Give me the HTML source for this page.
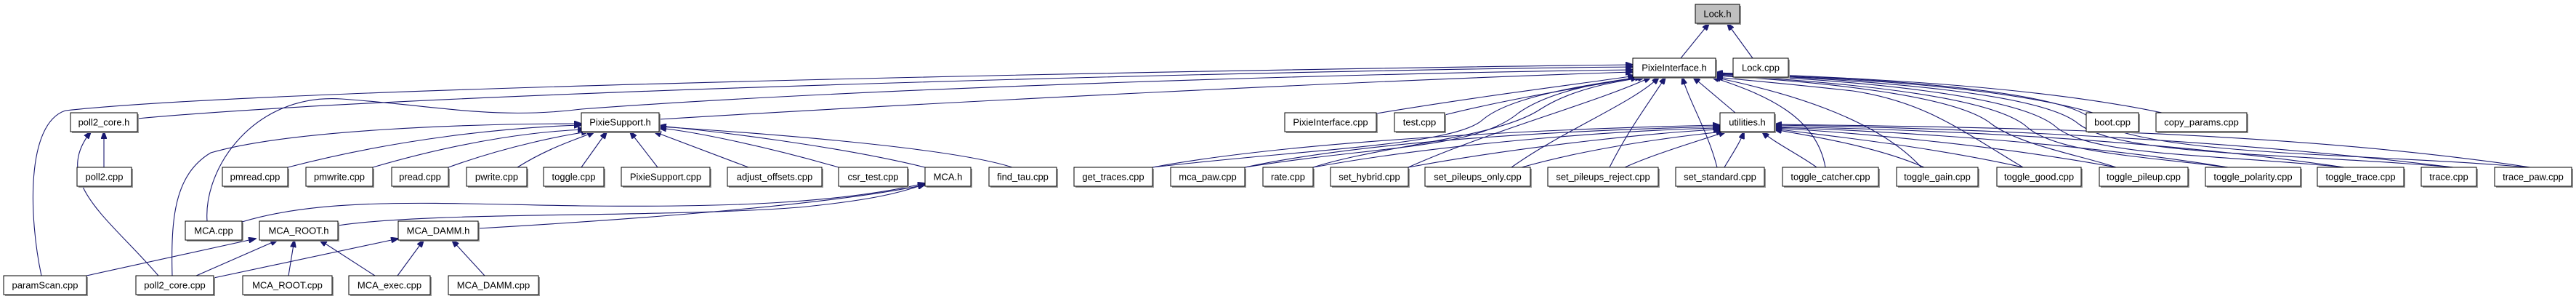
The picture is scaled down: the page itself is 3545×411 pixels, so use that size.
<!DOCTYPE html>
<html><head><meta charset="utf-8"><style>
html,body{margin:0;padding:0;background:#fff;}
svg{display:block;}
text{font-family:"Liberation Sans",Arial,sans-serif;font-size:13px;fill:#000;}
.e{fill:none;stroke:#191970;stroke-width:1.1;}
.n{fill:#fff;stroke:#000;stroke-width:1;}
.s{fill:#9a9a9a;}
</style></head><body>
<svg width="3545" height="411" viewBox="0 0 3545 411" xmlns="http://www.w3.org/2000/svg">
<defs>
<marker id="a" markerWidth="11" markerHeight="8" refX="10" refY="4" orient="auto" markerUnits="userSpaceOnUse">
<path d="M0,0 L11,4 L0,8 z" fill="#191970" stroke="#191970"/>
</marker>
</defs>
<g class="e" marker-end="url(#a)">
<path d="M2313,80 L2352,32"/>
<path d="M2412,80 L2377,32"/>
<path d="M189,163 C600,125 1800,96 2247,92"/>
<path d="M57,379 C40,300 35,170 90,152 C400,118 1800,94 2247,89"/>
<path d="M285,304 C280,230 350,128 470,136 C600,145 680,165 800,150 C1200,120 1900,100 2247,96"/>
<path d="M907,164 C1300,140 1900,110 2247,99"/>
<path d="M1894,156 C2050,130 2200,112 2250,104"/>
<path d="M1988,158 C2100,130 2230,112 2254,106"/>
<path d="M1586,230 C1800,205 2000,200 2040,165 C2080,130 2200,115 2255,106"/>
<path d="M1713,230 C1900,200 2030,205 2090,155 C2140,120 2230,110 2260,106"/>
<path d="M1807,230 C1900,200 2060,190 2120,150 C2170,118 2240,110 2264,106"/>
<path d="M1938,230 C2050,180 2200,140 2272,106"/>
<path d="M2080,230 C2150,180 2250,140 2283,106"/>
<path d="M2215,230 C2240,180 2270,140 2292,106"/>
<path d="M2363,230 C2350,180 2325,140 2315,106"/>
<path d="M2388,155 L2330,106"/>
<path d="M2512,230 C2500,160 2430,130 2356,106"/>
<path d="M2644,230 C2580,160 2450,125 2358,106"/>
<path d="M2784,230 C2700,180 2650,140 2550,125 C2460,115 2400,110 2361,106"/>
<path d="M2912,230 C2870,215 2780,200 2740,170 C2690,130 2500,112 2361,104"/>
<path d="M3066,230 C2950,215 2830,210 2790,175 C2740,130 2520,112 2361,103"/>
<path d="M3226,230 C3050,212 2880,215 2830,175 C2780,130 2550,110 2361,102"/>
<path d="M3376,230 C3150,210 2920,215 2860,170 C2810,128 2580,110 2361,101"/>
<path d="M3480,230 C3250,210 2960,215 2880,165 C2840,125 2600,108 2361,100"/>
<path d="M2880,155 C2750,118 2550,108 2361,101"/>
<path d="M2975,155 C2800,118 2550,106 2361,100"/>
<path d="M1586,230 C1800,190 2200,175 2367,172"/>
<path d="M1713,230 C1900,190 2200,178 2367,174"/>
<path d="M1807,230 C2000,195 2250,178 2368,176"/>
<path d="M1938,230 C2100,200 2300,180 2368,178"/>
<path d="M2094,230 C2200,200 2330,185 2372,181"/>
<path d="M2236,230 C2280,210 2350,190 2375,181"/>
<path d="M2373,230 C2385,210 2395,195 2400,181"/>
<path d="M2500,230 C2480,215 2440,195 2425,181"/>
<path d="M2648,230 C2580,200 2480,185 2442,178"/>
<path d="M2784,230 C2650,200 2500,185 2442,177"/>
<path d="M2912,230 C2750,200 2550,182 2442,176"/>
<path d="M3066,230 C2850,195 2600,180 2442,175"/>
<path d="M3226,230 C2950,190 2650,178 2442,174"/>
<path d="M3376,230 C3050,190 2700,176 2442,172"/>
<path d="M3482,230 C3150,180 2750,175 2442,171"/>
<path d="M1393,230 C1300,200 1000,180 907,174"/>
<path d="M396,230 C550,190 700,175 800,172"/>
<path d="M513,230 C650,190 750,180 805,178"/>
<path d="M617,230 C700,200 780,185 810,181"/>
<path d="M712,230 C760,200 800,190 818,181"/>
<path d="M800,230 L835,181"/>
<path d="M905,230 L867,181"/>
<path d="M1030,230 L900,181"/>
<path d="M1154,230 C1050,200 950,180 907,176"/>
<path d="M1273,230 C1150,200 980,180 907,173"/>
<path d="M237,379 C235,300 240,240 290,210 C400,178 650,170 800,170"/>
<path d="M333,305 C450,270 600,280 800,283 C1000,285 1150,280 1273,252"/>
<path d="M465,310 C600,290 900,300 1100,285 C1200,275 1240,265 1273,253"/>
<path d="M658,314 C900,300 1150,280 1273,254"/>
<path d="M119,379 L352,328"/>
<path d="M270,379 L382,330"/>
<path d="M397,379 L405,330"/>
<path d="M516,379 L440,330"/>
<path d="M294,382 L548,328"/>
<path d="M547,379 L583,330"/>
<path d="M667,379 L622,330"/>
<path d="M143,230 L143,181"/>
<path d="M218,379 C150,300 70,250 125,181"/>
</g>
<g>
<rect x="2335" y="8" width="61" height="26" class="s"/><rect x="2333" y="6" width="61" height="26" fill="#bfbfbf" stroke="#000"/><text x="2363.5" y="23.5" text-anchor="middle">Lock.h</text>
<rect x="2249" y="82" width="114" height="26" class="s"/><rect x="2247" y="80" width="114" height="26" class="n"/><text x="2304" y="97.5" text-anchor="middle">PixieInterface.h</text>
<rect x="2387" y="82" width="76" height="26" class="s"/><rect x="2385" y="80" width="76" height="26" class="n"/><text x="2423" y="97.5" text-anchor="middle">Lock.cpp</text>

<rect x="99" y="157" width="92" height="26" class="s"/><rect x="97" y="155" width="92" height="26" class="n"/><text x="143" y="172.5" text-anchor="middle">poll2_core.h</text>
<rect x="802" y="157" width="107" height="26" class="s"/><rect x="800" y="155" width="107" height="26" class="n"/><text x="853.5" y="172.5" text-anchor="middle">PixieSupport.h</text>
<rect x="1770" y="157" width="126" height="26" class="s"/><rect x="1768" y="155" width="126" height="26" class="n"/><text x="1831" y="172.5" text-anchor="middle">PixieInterface.cpp</text>
<rect x="1921" y="157" width="69" height="26" class="s"/><rect x="1919" y="155" width="69" height="26" class="n"/><text x="1953.5" y="172.5" text-anchor="middle">test.cpp</text>
<rect x="2369" y="157" width="75" height="26" class="s"/><rect x="2367" y="155" width="75" height="26" class="n"/><text x="2404.5" y="172.5" text-anchor="middle">utilities.h</text>
<rect x="2873" y="157" width="72" height="26" class="s"/><rect x="2871" y="155" width="72" height="26" class="n"/><text x="2907" y="172.5" text-anchor="middle">boot.cpp</text>
<rect x="2969" y="157" width="125" height="26" class="s"/><rect x="2967" y="155" width="125" height="26" class="n"/><text x="3029.5" y="172.5" text-anchor="middle">copy_params.cpp</text>

<rect x="108" y="232" width="75" height="26" class="s"/><rect x="106" y="230" width="75" height="26" class="n"/><text x="143.5" y="247.5" text-anchor="middle">poll2.cpp</text>
<rect x="308" y="232" width="90" height="26" class="s"/><rect x="306" y="230" width="90" height="26" class="n"/><text x="351" y="247.5" text-anchor="middle">pmread.cpp</text>
<rect x="423" y="232" width="92" height="26" class="s"/><rect x="421" y="230" width="92" height="26" class="n"/><text x="467" y="247.5" text-anchor="middle">pmwrite.cpp</text>
<rect x="541" y="232" width="78" height="26" class="s"/><rect x="539" y="230" width="78" height="26" class="n"/><text x="578" y="247.5" text-anchor="middle">pread.cpp</text>
<rect x="644" y="232" width="83" height="26" class="s"/><rect x="642" y="230" width="83" height="26" class="n"/><text x="683.5" y="247.5" text-anchor="middle">pwrite.cpp</text>
<rect x="750" y="232" width="83" height="26" class="s"/><rect x="748" y="230" width="83" height="26" class="n"/><text x="789.5" y="247.5" text-anchor="middle">toggle.cpp</text>
<rect x="857" y="232" width="122" height="26" class="s"/><rect x="855" y="230" width="122" height="26" class="n"/><text x="916" y="247.5" text-anchor="middle">PixieSupport.cpp</text>
<rect x="1003" y="232" width="130" height="26" class="s"/><rect x="1001" y="230" width="130" height="26" class="n"/><text x="1066" y="247.5" text-anchor="middle">adjust_offsets.cpp</text>
<rect x="1156" y="232" width="95" height="26" class="s"/><rect x="1154" y="230" width="95" height="26" class="n"/><text x="1201.5" y="247.5" text-anchor="middle">csr_test.cpp</text>
<rect x="1275" y="232" width="63" height="26" class="s"/><rect x="1273" y="230" width="63" height="26" class="n"/><text x="1304.5" y="247.5" text-anchor="middle">MCA.h</text>
<rect x="1363" y="232" width="93" height="26" class="s"/><rect x="1361" y="230" width="93" height="26" class="n"/><text x="1407.5" y="247.5" text-anchor="middle">find_tau.cpp</text>
<rect x="1480" y="232" width="108" height="26" class="s"/><rect x="1478" y="230" width="108" height="26" class="n"/><text x="1532" y="247.5" text-anchor="middle">get_traces.cpp</text>
<rect x="1613" y="232" width="102" height="26" class="s"/><rect x="1611" y="230" width="102" height="26" class="n"/><text x="1662" y="247.5" text-anchor="middle">mca_paw.cpp</text>
<rect x="1740" y="232" width="69" height="26" class="s"/><rect x="1738" y="230" width="69" height="26" class="n"/><text x="1772.5" y="247.5" text-anchor="middle">rate.cpp</text>
<rect x="1833" y="232" width="107" height="26" class="s"/><rect x="1831" y="230" width="107" height="26" class="n"/><text x="1884.5" y="247.5" text-anchor="middle">set_hybrid.cpp</text>
<rect x="1963" y="232" width="145" height="26" class="s"/><rect x="1961" y="230" width="145" height="26" class="n"/><text x="2033.5" y="247.5" text-anchor="middle">set_pileups_only.cpp</text>
<rect x="2132" y="232" width="152" height="26" class="s"/><rect x="2130" y="230" width="152" height="26" class="n"/><text x="2206" y="247.5" text-anchor="middle">set_pileups_reject.cpp</text>
<rect x="2308" y="232" width="122" height="26" class="s"/><rect x="2306" y="230" width="122" height="26" class="n"/><text x="2367" y="247.5" text-anchor="middle">set_standard.cpp</text>
<rect x="2455" y="232" width="132" height="26" class="s"/><rect x="2453" y="230" width="132" height="26" class="n"/><text x="2519" y="247.5" text-anchor="middle">toggle_catcher.cpp</text>
<rect x="2612" y="232" width="112" height="26" class="s"/><rect x="2610" y="230" width="112" height="26" class="n"/><text x="2666" y="247.5" text-anchor="middle">toggle_gain.cpp</text>
<rect x="2750" y="232" width="116" height="26" class="s"/><rect x="2748" y="230" width="116" height="26" class="n"/><text x="2806" y="247.5" text-anchor="middle">toggle_good.cpp</text>
<rect x="2891" y="232" width="122" height="26" class="s"/><rect x="2889" y="230" width="122" height="26" class="n"/><text x="2950" y="247.5" text-anchor="middle">toggle_pileup.cpp</text>
<rect x="3037" y="232" width="131" height="26" class="s"/><rect x="3035" y="230" width="131" height="26" class="n"/><text x="3100.5" y="247.5" text-anchor="middle">toggle_polarity.cpp</text>
<rect x="3191" y="232" width="119" height="26" class="s"/><rect x="3189" y="230" width="119" height="26" class="n"/><text x="3248.5" y="247.5" text-anchor="middle">toggle_trace.cpp</text>
<rect x="3334" y="232" width="76" height="26" class="s"/><rect x="3332" y="230" width="76" height="26" class="n"/><text x="3370" y="247.5" text-anchor="middle">trace.cpp</text>
<rect x="3435" y="232" width="106" height="26" class="s"/><rect x="3433" y="230" width="106" height="26" class="n"/><text x="3486" y="247.5" text-anchor="middle">trace_paw.cpp</text>

<rect x="257" y="306" width="78" height="26" class="s"/><rect x="255" y="304" width="78" height="26" class="n"/><text x="294" y="321.5" text-anchor="middle">MCA.cpp</text>
<rect x="359" y="306" width="108" height="26" class="s"/><rect x="357" y="304" width="108" height="26" class="n"/><text x="411" y="321.5" text-anchor="middle">MCA_ROOT.h</text>
<rect x="550" y="306" width="110" height="26" class="s"/><rect x="548" y="304" width="110" height="26" class="n"/><text x="603" y="321.5" text-anchor="middle">MCA_DAMM.h</text>

<rect x="7" y="381" width="114" height="26" class="s"/><rect x="5" y="379" width="114" height="26" class="n"/><text x="62" y="396.5" text-anchor="middle">paramScan.cpp</text>
<rect x="189" y="381" width="107" height="26" class="s"/><rect x="187" y="379" width="107" height="26" class="n"/><text x="240.5" y="396.5" text-anchor="middle">poll2_core.cpp</text>
<rect x="336" y="381" width="123" height="26" class="s"/><rect x="334" y="379" width="123" height="26" class="n"/><text x="395.5" y="396.5" text-anchor="middle">MCA_ROOT.cpp</text>
<rect x="482" y="381" width="112" height="26" class="s"/><rect x="480" y="379" width="112" height="26" class="n"/><text x="536" y="396.5" text-anchor="middle">MCA_exec.cpp</text>
<rect x="619" y="381" width="124" height="26" class="s"/><rect x="617" y="379" width="124" height="26" class="n"/><text x="679" y="396.5" text-anchor="middle">MCA_DAMM.cpp</text>
</g>
</svg>
</body></html>
